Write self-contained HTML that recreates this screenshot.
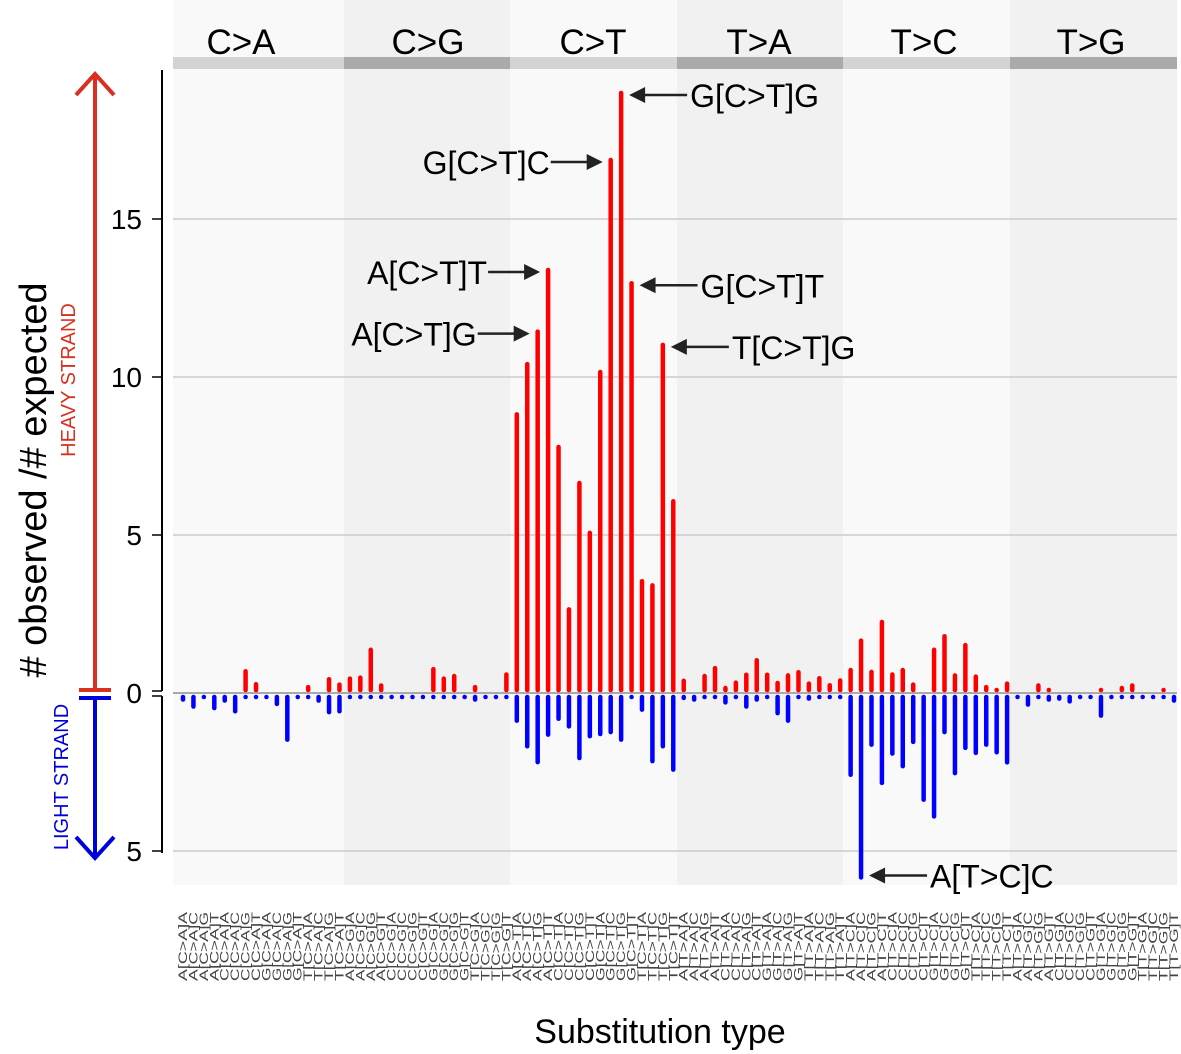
<!DOCTYPE html>
<html><head><meta charset="utf-8"><style>
html,body{margin:0;padding:0;background:#fff;}
svg{display:block;font-family:"Liberation Sans","DejaVu Sans",sans-serif;}
</style></head><body>
<svg id="chart" width="1181" height="1054" viewBox="0 0 1181 1054" xmlns="http://www.w3.org/2000/svg">
<g id="bg"></g>
<g id="grid"></g>
<g id="bars"></g>
<g id="axis"></g>
<g id="xlabels"></g>
<g id="annot"></g>
</svg>
<script>
const panels = ["C>A","C>G","C>T","T>A","T>C","T>G"];
const bases = ["A","C","G","T"];
const yTicks = [15,10,5,0];
const yTicksNeg = [5];
const heavy = [
0,0,0,0,0,0,0.75,0.34,0,0,0,0,0.25,0,0.5,0.33,
0.52,0.55,1.43,0.3,0,0,0,0,0.82,0.52,0.6,0,0.25,0,0,0.65,
8.88,10.47,11.5,13.45,7.85,2.71,6.71,5.13,10.22,16.93,19.05,13.03,3.6,3.47,11.08,6.13,
0.45,0,0.6,0.85,0.22,0.39,0.64,1.1,0.64,0.38,0.62,0.72,0.36,0.53,0.31,0.46,
0.79,1.72,0.73,2.31,0.65,0.79,0.33,0,1.43,1.86,0.62,1.58,0.58,0.25,0.15,0.36,
0,0,0.3,0.13,0,0,0,0,0.16,0,0.22,0.3,0,0,0.16,0];
const light = [
0.27,0.49,0.1,0.54,0.3,0.64,0.1,0.12,0.1,0.41,1.54,0.1,0.12,0.3,0.67,0.64,
0.1,0.1,0.1,0.1,0.1,0.1,0.1,0.1,0.1,0.1,0.1,0.1,0.27,0.1,0.1,0.1,
0.94,1.75,2.25,1.38,0.88,1.12,2.12,1.43,1.36,1.3,1.54,0.1,0.59,2.22,1.75,2.49,
0.22,0.27,0.12,0.14,0.36,0.12,0.49,0.27,0.12,0.7,0.94,0.12,0.24,0.12,0.12,0.12,
2.65,5.9,1.7,2.91,1.98,2.38,1.61,3.44,3.97,1.3,2.6,1.8,1.96,1.7,1.94,2.26,
0.12,0.43,0.12,0.27,0.24,0.33,0.12,0.12,0.78,0.12,0.12,0.12,0.12,0.12,0.12,0.3];
const annotations = [
 {label:"G[C>T]G", idx:42, side:"right"},
 {label:"G[C>T]C", idx:41, side:"left"},
 {label:"A[C>T]T", idx:35, side:"left"},
 {label:"A[C>T]G", idx:34, side:"left"},
 {label:"G[C>T]T", idx:43, side:"right"},
 {label:"T[C>T]G", idx:46, side:"right"},
 {label:"A[T>C]C", idx:65, side:"right", neg:true}
];

const NS="http://www.w3.org/2000/svg";
function mk(tag, attrs, parent, text){
  const e=document.createElementNS(NS,tag);
  for(const k in attrs) e.setAttribute(k,attrs[k]);
  if(text!==undefined) e.textContent=text;
  parent.appendChild(e); return e;
}
const X0=173, X1=1177, Y0=693, K=31.6;
const n=heavy.length;
function x(i){return 183+ (991/95)*i;}
function yUp(v){return Y0 - v*K;}
function yDown(v){return Y0 + v*K;}

const bg=document.getElementById('bg');
const edges=[173,344,510,677,843,1010,1177];
const labelX=[241,428,593,759,924,1091];
panels.forEach((p,k)=>{
  const x0=edges[k], pw=edges[k+1]-edges[k];
  const r=mk('rect',{x:x0,y:0,width:pw,height:885,fill:k%2?'#f1f1f1':'#f9f9f9'},bg);
  
  
  const b=mk('rect',{x:x0,y:57,width:pw,height:12,fill:k%2?'#aaaaaa':'#d3d3d3'},bg);
  
  
  const t=mk('text',{x:labelX[k],y:54,'font-size':35,'text-anchor':'middle',fill:'#000'},bg,p);
  
  
});

const grid=document.getElementById('grid');
yTicks.forEach(v=>{
  const l=mk('line',{x1:X0,x2:X1,y1:yUp(v),y2:yUp(v),stroke:v===0?'#aaaaaa':'#cccccc','stroke-width':v===0?2:1.5},grid);
  
  
});
yTicksNeg.forEach(v=>{
  const l=mk('line',{x1:X0,x2:X1,y1:yDown(v),y2:yDown(v),stroke:'#cccccc','stroke-width':1.5},grid);
  
  
});

const bars=document.getElementById('bars');
for(let i=0;i<n;i++){
  if(light[i]>0){
    const l=mk('line',{x1:x(i),x2:x(i),y1:Y0+4,y2:Math.max(Y0+4,yDown(light[i])-2),stroke:'#0000ff','stroke-width':4.5,'stroke-linecap':'round'},bars);
    
    
  }
  if(heavy[i]>0){
    const l=mk('line',{x1:x(i),x2:x(i),y1:Y0-3,y2:Math.min(Y0-3,yUp(heavy[i])+2),stroke:'#ff0000','stroke-width':4.5,'stroke-linecap':'round'},bars);
    
    
  }
}

const ax=document.getElementById('axis');
mk('line',{x1:162,x2:162,y1:70,y2:691,stroke:'#000','stroke-width':2},ax);
mk('line',{x1:162,x2:162,y1:696,y2:853,stroke:'#000','stroke-width':2},ax);
yTicks.forEach(v=>{
  const y=v===0?691:yUp(v);
  mk('line',{x1:152,x2:162,y1:y,y2:y,stroke:'#000','stroke-width':1.5},ax);
  const t=mk('text',{x:142,y:yUp(v)+10,'font-size':28,'text-anchor':'end'},ax,String(v));
  
  
});
mk('line',{x1:152,x2:162,y1:696,y2:696,stroke:'#000','stroke-width':1.5},ax);
yTicksNeg.forEach(v=>{
  mk('line',{x1:152,x2:162,y1:yDown(v),y2:yDown(v),stroke:'#000','stroke-width':1.5},ax);
  const t=mk('text',{x:142,y:yDown(v)+10,'font-size':28,'text-anchor':'end'},ax,String(v));
  
  
});
mk('line',{x1:95,x2:95,y1:75,y2:689,stroke:'#d9301f','stroke-width':4},ax);
mk('polyline',{points:'76,95 95,74 114,95',fill:'none',stroke:'#d9301f','stroke-width':4},ax);
mk('line',{x1:79,x2:111,y1:690,y2:690,stroke:'#d9301f','stroke-width':4},ax);
mk('line',{x1:79,x2:111,y1:698,y2:698,stroke:'#0000dd','stroke-width':4},ax);
mk('line',{x1:95,x2:95,y1:698,y2:856,stroke:'#0000dd','stroke-width':4},ax);
mk('polyline',{points:'76,837 95,858 114,837',fill:'none',stroke:'#0000dd','stroke-width':4},ax);
let t=mk('text',{transform:'translate(75,380) rotate(-90)','font-size':20,'text-anchor':'middle',fill:'#d9301f'},ax,'HEAVY STRAND');

t=mk('text',{transform:'translate(68,777) rotate(-90)','font-size':20,'text-anchor':'middle',fill:'#0000dd'},ax,'LIGHT STRAND');

t=mk('text',{transform:'translate(46,480) rotate(-90)','font-size':38,'text-anchor':'middle',fill:'#000'},ax,'# observed /# expected');

t=mk('text',{x:660,y:1043,'font-size':34,'text-anchor':'middle',fill:'#000'},ax,'Substitution type');


const xl=document.getElementById('xlabels');
for(let i=0;i<n;i++){
  const p=panels[Math.floor(i/16)];
  const lab=bases[Math.floor((i%16)/4)]+'['+p+']'+bases[i%4];
  const e=mk('text',{transform:`translate(${x(i)+4},981) rotate(-90)`,'font-size':11.5,fill:'#444',textLength:69,lengthAdjust:'spacingAndGlyphs'},xl,lab);
  
  
}

const an=document.getElementById('annot');
annotations.forEach(a=>{
  const v=a.neg?light[a.idx]:heavy[a.idx];
  const yv=a.neg?yDown(v)-4:yUp(v)+4;
  const bx=x(a.idx);
  const g=mk('g',{},an);
  
  
  if(a.side==='right'){
    const tip=bx+8, tail=tip+58;
    mk('line',{x1:tip+10,x2:tail,y1:yv,y2:yv,stroke:'#222','stroke-width':2.5},g);
    mk('polygon',{points:`${tip},${yv} ${tip+16},${yv-8} ${tip+16},${yv+8}`,fill:'#222'},g);
    mk('text',{x:tail+3,y:yv+12,'font-size':32},g,a.label);
  } else {
    const tip=bx-8, tail=tip-52;
    mk('line',{x1:tail,x2:tip-10,y1:yv,y2:yv,stroke:'#222','stroke-width':2.5},g);
    mk('polygon',{points:`${tip},${yv} ${tip-16},${yv-8} ${tip-16},${yv+8}`,fill:'#222'},g);
    mk('text',{x:tail-1,y:yv+12,'font-size':32,'text-anchor':'end'},g,a.label);
  }
});
</script>
</body></html>
